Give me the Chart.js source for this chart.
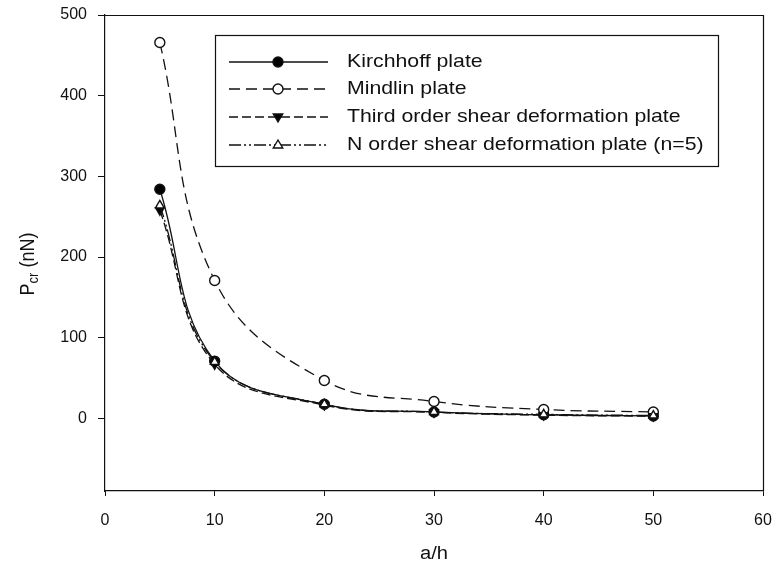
<!DOCTYPE html>
<html>
<head>
<meta charset="utf-8">
<script src="https://cdn.jsdelivr.net/npm/chart.js@4/dist/chart.umd.min.js"></script>
<style>
html,body{margin:0;padding:0;background:#fff;}
</style>
</head>
<body>
<canvas id="c" width="773" height="572"></canvas>
<script>
// ---- data ----
const ratios = [5, 10, 20, 30, 40, 50];           // a/h
const kirchhoff = [284, 71, 17.5, 8, 4.5, 3];
const mindlin   = [466, 171, 47, 21, 11, 8];
const thirdOrder = [258, 67, 16.5, 7.5, 4, 2.8];
const nOrder    = [264, 70, 17.5, 8, 5, 3.5];
const seriesNames = ['Kirchhoff plate', 'Mindlin plate', 'Third order shear deformation plate', 'N order shear deformation plate (n=5)'];
const xTicks = [0, 10, 20, 30, 40, 50, 60];
const yTicks = [0, 100, 200, 300, 400, 500];
const xTitle = 'a/h';

const FONT = '"Liberation Sans", Arial, Helvetica, sans-serif';
const STRETCH = 1.12;
const toPts = arr => ratios.map((x, i) => ({x: x, y: arr[i]}));

const styles = [
  {dash: [], point: 'circle', fill: '#000', rot: 0},
  {dash: [11, 6], point: 'circle', fill: '#fff', rot: 0},
  {dash: [9, 4], point: 'triangle', fill: '#000', rot: 180},
  {dash: [12, 3, 2, 3, 2, 3], point: 'triangle', fill: '#fff', rot: 0}
];
const seriesData = [kirchhoff, mindlin, thirdOrder, nOrder];

const datasets = seriesData.map((arr, i) => ({
  label: seriesNames[i],
  data: toPts(arr),
  borderColor: '#111',
  borderWidth: 1.3,
  borderDash: styles[i].dash,
  pointStyle: styles[i].point,
  pointRotation: styles[i].rot,
  pointRadius: 5,
  pointBorderWidth: 1.4,
  pointBackgroundColor: styles[i].fill,
  pointBorderColor: '#111',
  tension: 0.4,
  fill: false,
  order: 4 - i
}));

function drawMarker(ctx, style, x, y, r) {
  ctx.save();
  ctx.setLineDash([]);
  ctx.lineWidth = 1.4;
  ctx.strokeStyle = '#111';
  ctx.fillStyle = style.fill;
  ctx.beginPath();
  if (style.point === 'circle') {
    ctx.arc(x, y, r, 0, Math.PI * 2);
  } else {
    const s = style.rot === 180 ? -1 : 1;
    ctx.moveTo(x, y - s * r);
    ctx.lineTo(x - r * 0.95, y + s * r * 0.6);
    ctx.lineTo(x + r * 0.95, y + s * r * 0.6);
    ctx.closePath();
  }
  ctx.fill();
  ctx.stroke();
  ctx.restore();
}

function stretchedText(ctx, text, x, y, align) {
  ctx.save();
  ctx.translate(x, y);
  ctx.scale(STRETCH, 1);
  ctx.textAlign = align;
  ctx.fillText(text, 0, 0);
  ctx.restore();
}

const decor = {
  id: 'decor',
  afterDraw(chart) {
    const ctx = chart.ctx;
    const a = chart.chartArea;
    ctx.save();
    // frame (top & right)
    ctx.strokeStyle = '#111';
    ctx.lineWidth = 1.2;
    ctx.setLineDash([]);
    ctx.beginPath();
    ctx.moveTo(a.left, a.top + 0.5);
    ctx.lineTo(a.right + 0.5, a.top + 0.5);
    ctx.lineTo(a.right + 0.5, a.bottom);
    ctx.stroke();

    // legend box
    const lx = 215, ly = 35, lw = 503, lh = 131;
    ctx.fillStyle = '#fff';
    ctx.fillRect(lx, ly, lw, lh);
    ctx.lineWidth = 1.2;
    ctx.strokeRect(lx + 0.5, ly + 0.5, lw, lh);
    const rowY = [62, 89, 117, 145];
    ctx.font = '19px ' + FONT;
    ctx.textBaseline = 'middle';
    for (let i = 0; i < 4; i++) {
      const y = rowY[i];
      ctx.setLineDash(styles[i].dash);
      ctx.lineWidth = 1.3;
      ctx.beginPath();
      ctx.moveTo(229, y);
      ctx.lineTo(328, y);
      ctx.stroke();
      drawMarker(ctx, styles[i], 278, y, 5);
      ctx.setLineDash([]);
      ctx.fillStyle = '#111';
      stretchedText(ctx, seriesNames[i], 347, y, 'left');
    }

    // x title
    ctx.fillStyle = '#111';
    ctx.font = '18px ' + FONT;
    ctx.textBaseline = 'middle';
    stretchedText(ctx, xTitle, (a.left + a.right) / 2, 554, 'center');

    // y title with subscript (rotated)
    ctx.save();
    ctx.translate(27, 264);
    ctx.rotate(-Math.PI / 2);
    ctx.scale(1, STRETCH);
    ctx.textAlign = 'left';
    ctx.textBaseline = 'alphabetic';
    const big = '18px ' + FONT, small = '13px ' + FONT;
    ctx.font = big; const wP = ctx.measureText('P').width;
    ctx.font = small; const wS = ctx.measureText('cr').width;
    ctx.font = big; const wR = ctx.measureText(' (nN)').width;
    const x0 = -(wP + wS + wR) / 2;
    ctx.font = big; ctx.fillText('P', x0, 6);
    ctx.font = small; ctx.fillText('cr', x0 + wP, 10);
    ctx.font = big; ctx.fillText(' (nN)', x0 + wP + wS, 6);
    ctx.restore();

    ctx.restore();
  }
};

new Chart(document.getElementById('c'), {
  type: 'line',
  data: {datasets: datasets},
  options: {
    responsive: false,
    animation: false,
    layout: {padding: {top: 15, right: 10, left: 0, bottom: 0}},
    plugins: {legend: {display: false}, tooltip: {enabled: false}},
    scales: {
      x: {
        type: 'linear',
        min: 0, max: 60,
        afterBuildTicks: s => { s.ticks = xTicks.map(v => ({value: v})); },
        afterFit: s => { s.height = 572 - 491; s.paddingLeft = 0; s.paddingRight = 0; },
        border: {display: true, color: '#111', width: 1.2},
        grid: {drawOnChartArea: false, drawTicks: true, tickLength: 5, color: '#111', lineWidth: 1},
        ticks: {padding: 15, color: '#111', font: {family: FONT, size: 16}, maxRotation: 0, autoSkip: false}
      },
      y: {
        type: 'linear',
        min: -90, max: 500,
        afterBuildTicks: s => { s.ticks = yTicks.map(v => ({value: v})); },
        afterFit: s => { s.width = 105; s.paddingTop = 0; s.paddingBottom = 0; },
        border: {display: true, color: '#111', width: 1.2},
        grid: {drawOnChartArea: false, drawTicks: true, tickLength: 7, color: '#111', lineWidth: 1},
        ticks: {padding: 11, color: '#111', font: {family: FONT, size: 16}}
      }
    }
  },
  plugins: [decor]
});
</script>
</body>
</html>
